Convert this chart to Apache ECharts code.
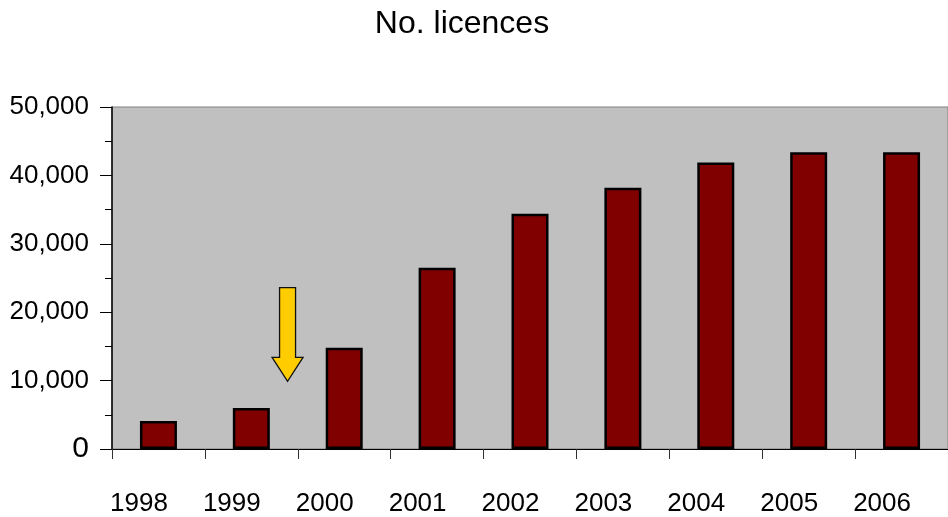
<!DOCTYPE html>
<html>
<head>
<meta charset="utf-8">
<script src="https://cdn.jsdelivr.net/npm/echarts@6/dist/echarts.min.js"></script>
<style>
  html, body { margin: 0; padding: 0; background: #ffffff; }
  #chart { width: 948px; height: 517px; }
</style>
</head>
<body>
<div id="chart"></div>
<script>
// Licence counts per year
const years = ['1998', '1999', '2000', '2001', '2002', '2003', '2004', '2005', '2006'];
const licences = [4100, 6000, 14800, 26500, 34400, 38200, 41900, 43400, 43400];
const yTicks = [0, 10000, 20000, 30000, 40000, 50000];

// Callout arrow: placed between two categories, pointing down to a value
const arrowFrom = ['1999', '2000'];
const arrowFraction = 0.39;
const arrowTailValue = 23600;
const arrowTipValue = 9900;

const FONT = '"Liberation Sans", Arial, sans-serif';

function withCommas(v) {
  const s = String(v).replace(/\B(?=(\d{3})+(?!\d))/g, ',');
  return v === 0 ? '{zero|' + s + '}' : s;
}

const chart = echarts.init(document.getElementById('chart'), null, { renderer: 'canvas' });

chart.setOption({
  animation: false,
  backgroundColor: '#ffffff',
  title: {
    text: 'No. licences',
    left: 457,
    top: 3,
    textAlign: 'center',
    textStyle: { fontFamily: FONT, fontSize: 32, fontWeight: 'normal', color: '#000000' }
  },
  grid: {
    left: 112,
    top: 107,
    width: 842,
    height: 342,
    show: true,
    backgroundColor: '#c0c0c0',
    borderColor: '#808080',
    borderWidth: 1
  },
  xAxis: {
    type: 'category',
    data: years,
    boundaryGap: true,
    axisLine: { show: true, lineStyle: { color: '#000000', width: 1 } },
    axisTick: { show: true, inside: false, length: 10, alignWithLabel: false, lineStyle: { color: '#333333' } },
    axisLabel: {
      fontFamily: FONT, fontSize: 26, color: '#000000', margin: 42,
      padding: [0, 39, 0, 0]
    },
    splitLine: { show: false }
  },
  yAxis: {
    type: 'value',
    min: yTicks[0],
    max: yTicks[yTicks.length - 1],
    interval: yTicks[1] - yTicks[0],
    axisLine: { show: true, lineStyle: { color: '#000000', width: 1.5 } },
    axisTick: { show: true, inside: false, length: 12, lineStyle: { color: '#000000' } },
    minorTick: { show: true, splitNumber: 2, length: 7, lineStyle: { color: '#000000' } },
    axisLabel: {
      fontFamily: FONT, fontSize: 26, color: '#000000', margin: 23, formatter: withCommas,
      rich: { zero: { fontFamily: FONT, fontSize: 30, color: '#000000' } }
    },
    splitLine: { show: false },
    minorSplitLine: { show: false }
  },
  series: [{
    type: 'bar',
    data: licences,
    barWidth: 37,
    itemStyle: { color: '#800000', borderColor: '#000000', borderWidth: 2.5 }
  }]
});

// Build the arrow from data coordinates
const pA = chart.convertToPixel({ gridIndex: 0 }, [arrowFrom[0], arrowTailValue]);
const pB = chart.convertToPixel({ gridIndex: 0 }, [arrowFrom[1], arrowTailValue]);
const cx = pA[0] + (pB[0] - pA[0]) * arrowFraction;
const yTail = pA[1];
const yTip = chart.convertToPixel({ gridIndex: 0 }, [arrowFrom[0], arrowTipValue])[1];
const shaftHalf = 8;
const headHalf = 15.5;
const headLen = 24;
const yHead = yTip - headLen;

chart.setOption({
  graphic: [{
    type: 'polygon',
    z: 100,
    shape: {
      points: [
        [cx - shaftHalf, yTail],
        [cx + shaftHalf, yTail],
        [cx + shaftHalf, yHead],
        [cx + headHalf, yHead],
        [cx, yTip],
        [cx - headHalf, yHead],
        [cx - shaftHalf, yHead]
      ]
    },
    style: { fill: '#ffcc00', stroke: '#111111', lineWidth: 1.3 }
  }]
});
</script>
</body>
</html>
